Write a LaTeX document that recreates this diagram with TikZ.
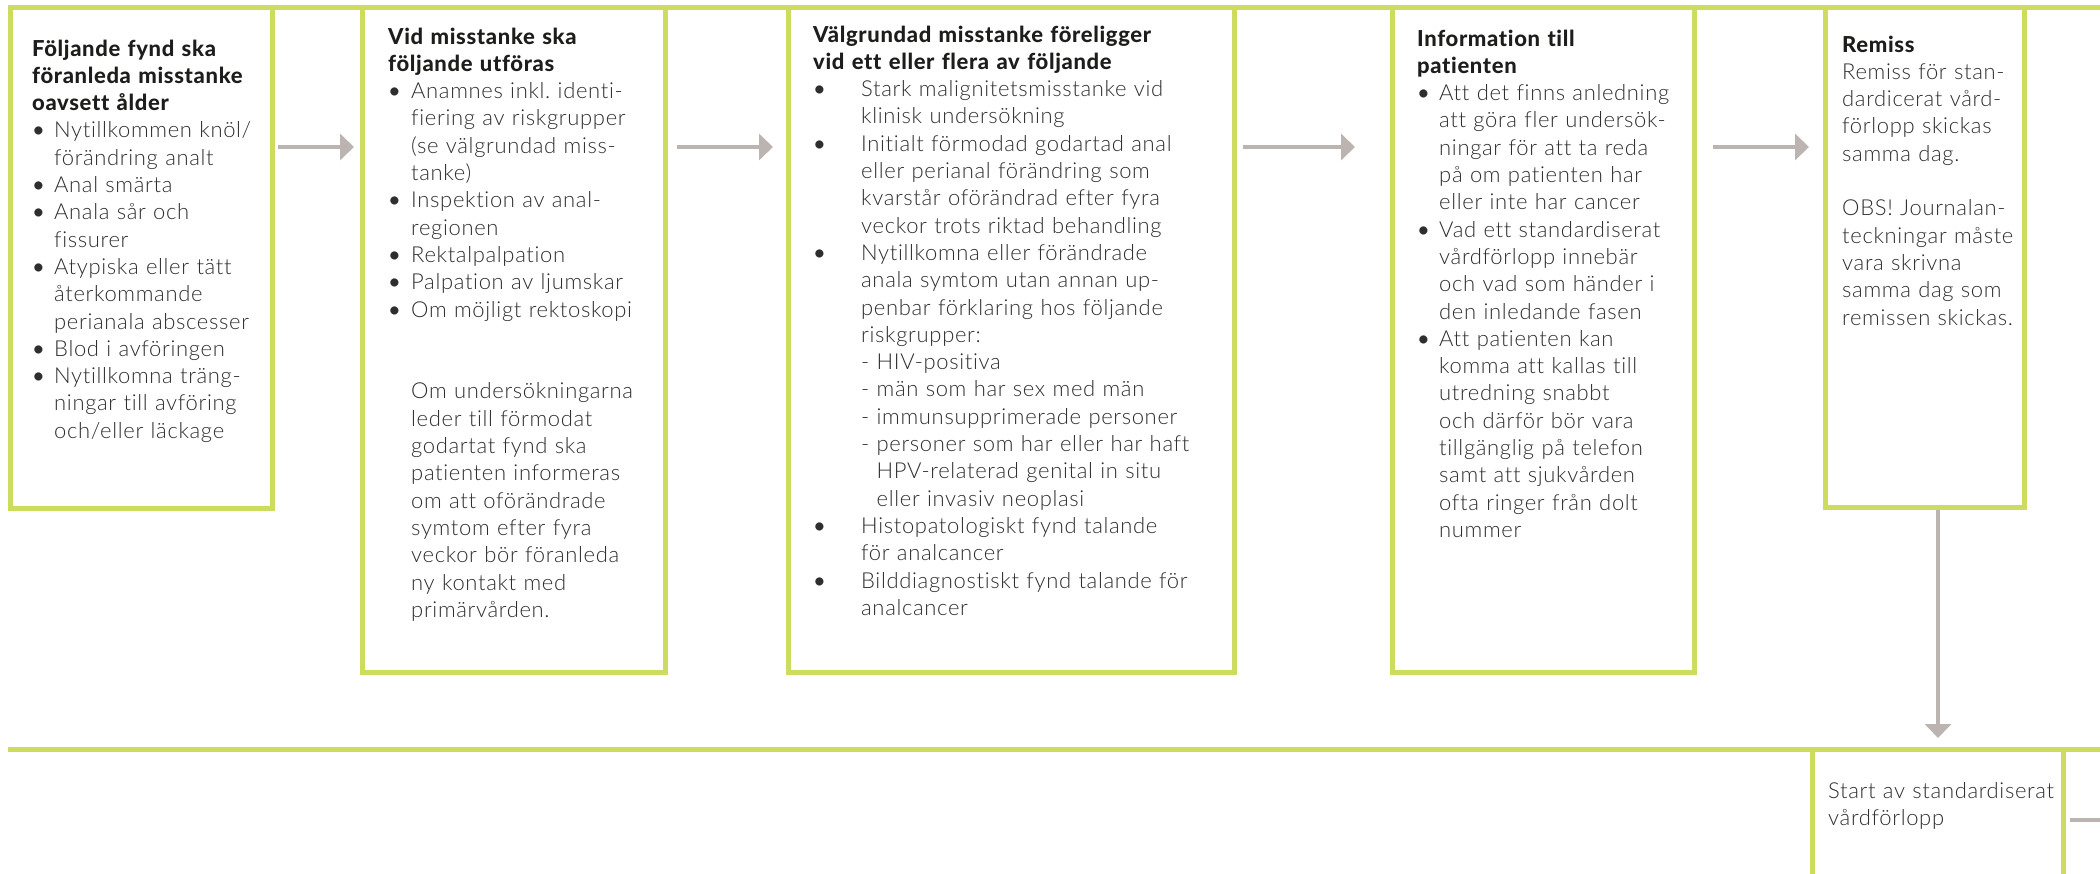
\documentclass[tikz,border=0pt]{standalone}
\usepackage{fontspec}
\IfFontExistsTF{Lato Light}{%
	\IfFontExistsTF{Lato Heavy}{\setmainfont{Lato Light}[BoldFont=Lato Heavy, Ligatures=NoCommon, LetterSpace=3]}%
		{\setmainfont{Lato Light}[BoldFont=Lato Bold, Ligatures=NoCommon, LetterSpace=3]}}%
	{\setmainfont{Lato}[Ligatures=NoCommon, LetterSpace=3]}
\newfontfamily\dotfont{Lato}
\frenchspacing
\usetikzlibrary{positioning, arrows.meta}
\definecolor{rccgreen}{HTML}{CDDC5F}
\definecolor{flowgray}{HTML}{BCB4B1}
\definecolor{ink}{HTML}{2E2E2D}
\definecolor{headink}{HTML}{1D1D1B}
\newcommand{\bul}[1][22pt]{\makebox[#1][l]{\dotfont\textbullet}\ignorespaces}
\newcommand{\cnt}[1][22pt]{\hspace*{#1}\ignorespaces}
\newcommand{\hd}[1]{{\bfseries\color{headink}#1}}

\begin{document}
\begin{tikzpicture}[x=1pt, y=-1pt,
	stepbox/.style={draw=rccgreen, line width=5pt, outer sep=0pt, inner sep=0pt, anchor=north west},
	txt/.style={anchor=base west, inner sep=0pt, align=left, text=ink, font=\fontsize{22}{27.3}\selectfont},
	flow/.style={draw=flowgray, line width=4.5pt, -{Triangle[length=14pt, width=26pt]}},
	rail/.style={draw=rccgreen, line width=5pt}]
	\useasboundingbox (0,0) rectangle (2100,873);
	% the two lanes
	\draw[rail] (8,7.5) -- (2100,7.5);
	\draw[rail] (8,749.5) -- (2100,749.5);
	% steps
	\node[stepbox, minimum width=262pt, minimum height=500.5pt] (B0) at (10.5,7.5) {};
	\node[stepbox, minimum width=302.5pt, minimum height=665pt] (B1) [below right=0pt and 90pt of B0.north east] {};
	\node[stepbox, minimum width=446.5pt, minimum height=665pt] (B2) [below right=0pt and 123pt of B1.north east] {};
	\node[stepbox, minimum width=302pt, minimum height=665pt] (B3) [below right=0pt and 157.5pt of B2.north east] {};
	\node[stepbox, minimum width=199pt, minimum height=500pt] (B4) [below right=0pt and 131.5pt of B3.north east] {};
	\node[stepbox, minimum width=251pt, minimum height=141pt] (C0) at (1812.5,749.5) {};
	\coordinate (row) at (0,147);
	% texts
	\node[txt, text width=236pt] (T0) at ([shift={(21.5,48.5)}]B0.north west) {%
		\hd{Följande fynd ska}\\ \hd{föranleda misstanke}\\ \hd{oavsett ålder}\\
		\bul Nytillkommen knöl/\\ \cnt förändring analt\\
		\bul Anal smärta\\
		\bul Anala sår och\\ \cnt fissurer\\
		\bul Atypiska eller tätt\\ \cnt återkommande\\ \cnt perianala abscesser\\
		\bul Blod i avföringen\\
		\bul Nytillkomna träng-\\ \cnt ningar till avföring\\ \cnt och/eller läckage};
	\node[txt, text width=272pt] (T1) at ([shift={(25.5,36.5)}]B1.north west) {%
		\hd{Vid misstanke ska}\\ \hd{följande utföras}\\
		\bul[23pt] Anamnes inkl. identi-\\ \cnt[23pt] fiering av riskgrupper\\ \cnt[23pt] (se välgrundad miss-\\ \cnt[23pt] tanke)\\
		\bul[23pt] Inspektion av anal-\\ \cnt[23pt] regionen\\
		\bul[23pt] Rektalpalpation\\
		\bul[23pt] Palpation av ljumskar\\
		\bul[23pt] Om möjligt rektoskopi\\[54.6pt]
		\cnt[23pt] Om undersökningarna\\ \cnt[23pt] leder till förmodat\\ \cnt[23pt] godartat fynd ska\\
		\cnt[23pt] patienten informeras\\ \cnt[23pt] om att oförändrade\\ \cnt[23pt] symtom efter fyra\\
		\cnt[23pt] veckor bör föranleda\\ \cnt[23pt] ny kontakt med\\ \cnt[23pt] primärvården.};
	\node[txt, text width=415pt] (T2) at ([shift={(25,34.5)}]B2.north west) {%
		\hd{Välgrundad misstanke föreligger}\\ \hd{vid ett eller flera av följande}\\
		\bul[48pt] Stark malignitetsmisstanke vid\\ \cnt[48pt] klinisk undersökning\\
		\bul[48pt] Initialt förmodad godartad anal\\ \cnt[48pt] eller perianal förändring som\\
		\cnt[48pt] kvarstår oförändrad efter fyra\\ \cnt[48pt] veckor trots riktad behandling\\
		\bul[48pt] Nytillkomna eller förändrade\\ \cnt[48pt] anala symtom utan annan up-\\
		\cnt[48pt] penbar förklaring hos följande\\ \cnt[48pt] riskgrupper:\\
		\cnt[48pt] - HIV-positiva\\ \cnt[48pt] - män som har sex med män\\
		\cnt[48pt] - immunsupprimerade personer\\ \cnt[48pt] - personer som har eller har haft\\
		\cnt[48pt] \phantom{- }HPV-relaterad genital in situ\\ \cnt[48pt] \phantom{- }eller invasiv neoplasi\\
		\bul[48pt] Histopatologiskt fynd talande\\ \cnt[48pt] för analcancer\\
		\bul[48pt] Bilddiagnostiskt fynd talande för\\ \cnt[48pt] analcancer};
	\node[txt, text width=272pt] (T3) at ([shift={(25,38.5)}]B3.north west) {%
		\hd{Information till}\\ \hd{patienten}\\
		\bul Att det finns anledning\\ \cnt att göra fler undersök-\\ \cnt ningar för att ta reda\\
		\cnt på om patienten har\\ \cnt eller inte har cancer\\
		\bul Vad ett standardiserat\\ \cnt vårdförlopp innebär\\ \cnt och vad som händer i\\ \cnt den inledande fasen\\
		\bul Att patienten kan\\ \cnt komma att kallas till\\ \cnt utredning snabbt\\ \cnt och därför bör vara\\
		\cnt tillgänglig på telefon\\ \cnt samt att sjukvården\\ \cnt ofta ringer från dolt\\ \cnt nummer};
	\node[txt, text width=180pt] (T4) at ([shift={(16.5,44.5)}]B4.north west) {%
		\hd{Remiss}\\ Remiss för stan-\\ dardicerat vård-\\ förlopp skickas\\ samma dag.\\[27.3pt]
		OBS! Journalan-\\ teckningar måste\\ vara skrivna\\ samma dag som\\ remissen skickas.};
	\node[txt, text width=235pt] (U0) at ([shift={(15.5,48.5)}]C0.north west) {Start av standardiserat\\ vårdförlopp};
	% connectors
	\draw[flow, shorten <=5.5pt, shorten >=8.5pt] (B0.east |- row) -- (B1.west |- row);
	\draw[flow, shorten <=12pt, shorten >=15pt] (B1.east |- row) -- (B2.west |- row);
	\draw[flow, shorten <=8.5pt, shorten >=37pt] (B2.east |- row) -- (B3.west |- row);
	\draw[flow, shorten <=19pt, shorten >=16.5pt] (B3.east |- row) -- (B4.west |- row);
	\draw[flow, shorten <=2.5pt, shorten >=11.5pt] (B4.south -| C0.north) -- (C0.north);
	\coordinate (C1) at ([xshift=60pt]C0.east);
	\draw[draw=flowgray, line width=4.5pt, shorten <=6.5pt] (C0.east) -- (C1);
\end{tikzpicture}
\end{document}
